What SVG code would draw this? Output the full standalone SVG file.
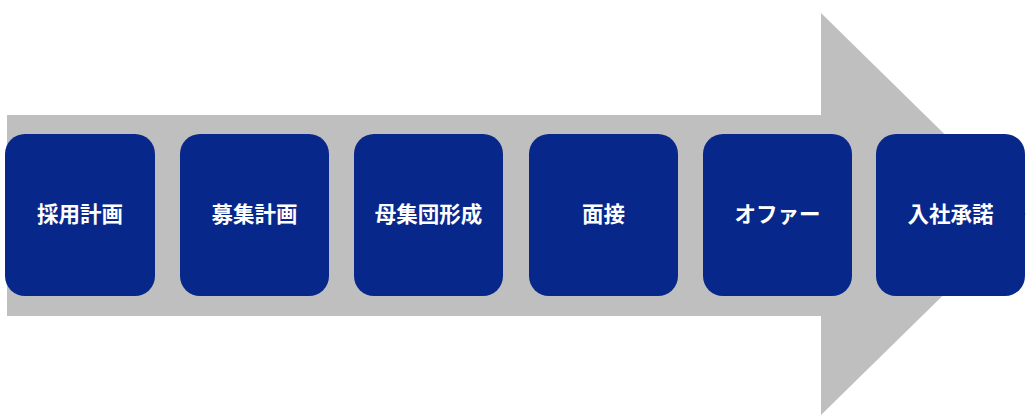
<svg xmlns="http://www.w3.org/2000/svg" width="1034" height="419" viewBox="0 0 1034 419">
<style>
.bg{fill:#ffffff}
.arrow{fill:#bfbfbf}
.box{fill:#07288a}
.lbl{fill:#ffffff;font-family:"Noto Sans CJK JP","Noto Sans CJK SC",sans-serif;font-weight:bold;font-size:21.5px;text-anchor:middle}
</style>
<rect class="bg" x="0" y="0" width="1034" height="419"/>
<g id="connectors">
<polygon class="arrow" points="7,115 821,115 821,13 1026,214 821,415 821,316 7,316"/>
</g>
<g id="n1"><rect class="box" x="5" y="134" width="150" height="162" rx="20"/><text class="lbl" x="80" y="222">採用計画</text></g>
<g id="n2"><rect class="box" x="180" y="134" width="149" height="162" rx="20"/><text class="lbl" x="254.5" y="222">募集計画</text></g>
<g id="n3"><rect class="box" x="354" y="134" width="149" height="162" rx="20"/><text class="lbl" x="428.5" y="222">母集団形成</text></g>
<g id="n4"><rect class="box" x="529" y="134" width="149" height="162" rx="20"/><text class="lbl" x="603.5" y="222">面接</text></g>
<g id="n5"><rect class="box" x="703" y="134" width="149" height="162" rx="20"/><text class="lbl" x="777.5" y="222">オファー</text></g>
<g id="n6"><rect class="box" x="876" y="134" width="149" height="162" rx="20"/><text class="lbl" x="950.5" y="222">入社承諾</text></g>
</svg>
